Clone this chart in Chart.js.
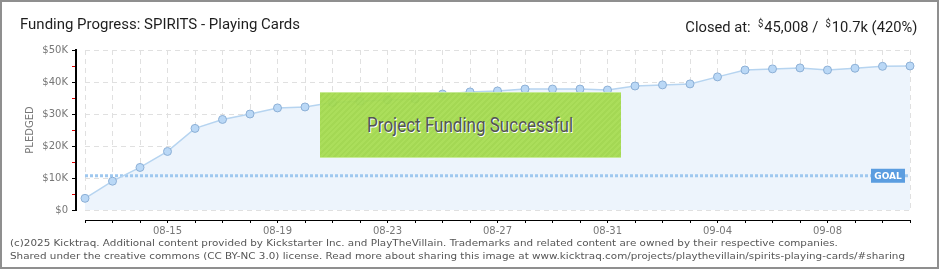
<!DOCTYPE html>
<html><head><meta charset="utf-8">
<script src="https://cdn.jsdelivr.net/npm/chart.js@4/dist/chart.umd.min.js"></script>
<style>
html,body{margin:0;padding:0;background:#fff;}
#wrap{position:relative;width:940px;height:270px;overflow:hidden;background:#fff;}
#frame{position:absolute;left:0;top:0;width:939px;height:269px;box-sizing:border-box;border:2px solid #8f8f8f;pointer-events:none;}
canvas{position:absolute;left:0;top:0;}
.txt{position:absolute;white-space:nowrap;}
#title{left:20px;top:16px;font:15.5px Roboto, "Noto Sans", sans-serif;color:#1e1e1e;line-height:16px;transform-origin:left center;}
#closed{right:23px;top:16px;font:15.5px Roboto, "Noto Sans", sans-serif;color:#1e1e1e;line-height:16px;transform-origin:right center;}
#closed sup{font-size:10px;vertical-align:5px;margin-right:1px;}
.foot{left:10px;font:9.5px "DejaVu Sans", sans-serif;color:#555;line-height:12px;transform-origin:left center;}
#f1{top:237px;}
#f2{top:250px;}
#success{position:absolute;left:320px;top:92px;width:301px;height:66px;box-sizing:border-box;
  background:repeating-linear-gradient(135deg,#a6dc4f 0px,#a6dc4f 2px,#9fd647 2px,#9fd647 4px);
  border-top:1px solid #c4ea8e;border-bottom:1px solid #c4ea8e;opacity:0.93;
  display:flex;align-items:center;justify-content:center;}
#success span{font:19.5px Roboto, "Noto Sans", sans-serif;color:#474747;text-shadow:1px 1px 0 #fff;display:inline-block;}
</style></head>
<body>
<div id="wrap">
  <canvas id="c" width="940" height="270"></canvas>
  <div id="success"><span id="succText">Project Funding Successful</span></div>
  <div class="txt" id="title">Funding Progress: SPIRITS - Playing Cards</div>
  <div class="txt" id="closed">Closed at:&nbsp; <sup>$</sup>45,008 / &nbsp;<sup>$</sup>10.7k (420%)</div>
  <div class="txt foot" id="f1">(c)2025 Kicktraq. Additional content provided by Kickstarter Inc. and PlayTheVillain. Trademarks and related content are owned by their respective companies.</div>
  <div class="txt foot" id="f2">Shared under the creative commons (CC BY-NC 3.0) license. Read more about sharing this image at www.kicktraq.com/projects/playthevillain/spirits-playing-cards/#sharing</div>
  <div id="frame"></div>
</div>
<script>
// ---- data ----
const dates = ['08-12','08-13','08-14','08-15','08-16','08-17','08-18','08-19','08-20','08-21',
  '08-22','08-23','08-24','08-25','08-26','08-27','08-28','08-29','08-30','08-31',
  '09-01','09-02','09-03','09-04','09-05','09-06','09-07','09-08','09-09','09-10','09-11'];
const pledged = [3650, 9000, 13300, 18300, 25500, 28300, 30000, 31900, 32200, 33600,
  34000, 34400, 34700, 36250, 36900, 37200, 37800, 37800, 37800, 37500,
  38750, 39100, 39400, 41600, 43750, 44100, 44400, 43750, 44300, 44900, 45008];
const goal = 10700;
const goalSeries = dates.map(() => goal);
const xTickLabels = ['08-15','08-19','08-23','08-27','08-31','09-04','09-08'];
const yTickValues = [0, 10000, 20000, 30000, 40000, 50000];
const yTickLabels = ['$0','$10K','$20K','$30K','$40K','$50K'];

// fit header / footer text widths
function fitW(id, w){ const el=document.getElementById(id); const r=el.getBoundingClientRect().width; el.style.transform='scaleX('+(w/r)+')'; return w/r; }
fitW('title', 280);
fitW('closed', 232);
const s2 = fitW('f2', 895);
document.getElementById('f1').style.transform='scaleX('+s2+')';
fitW('succText', 206);

const goalLabel = {
  id:'goalLabel',
  afterDatasetsDraw(chart){
    const {ctx, chartArea, scales:{y}} = chart;
    const py = y.getPixelForValue(goal);
    const w=34, h=14, x=chartArea.right-39;
    ctx.save();
    ctx.fillStyle='#5b9de0';
    ctx.fillRect(x, py-h/2, w, h);
    ctx.fillStyle='#ffffff';
    ctx.font='bold 9px "DejaVu Sans"';
    ctx.textAlign='center'; ctx.textBaseline='middle';
    ctx.fillText('GOAL', x+w/2, py+0.5);
    ctx.restore();
  }
};

const gridDash = [5,4];
new Chart(document.getElementById('c'), {
  type:'line',
  data:{
    labels: dates,
    datasets:[
      { label:'Goal', data: goalSeries, xAxisID:'x', yAxisID:'y',
        borderColor:'#9fc8ef', borderWidth:3, borderDash:[3,2], pointRadius:0, fill:false, order:2 },
      { label:'Pledged', data: pledged, xAxisID:'x', yAxisID:'y',
        borderColor:'#b6d4f0', borderWidth:1.5, backgroundColor:'#edf4fc', fill:'origin', tension:0,
        pointRadius:4, pointBackgroundColor:'#bad8f6', pointBorderColor:'#8db0d6', pointBorderWidth:1, order:1 }
    ]
  },
  options:{
    responsive:false, animation:false, devicePixelRatio:1,
    layout:{ padding:{ left:0, top:50, right:30, bottom:30 } },
    plugins:{ legend:{display:false}, tooltip:{enabled:false}, title:{display:false},
      filler:{ drawTime:'beforeDatasetsDraw' } },
    events:[],
    scales:{
      x:{ type:'category', position:'bottom', weight:1, offset:false,
        grid:{ color:'#e0e0e0', drawTicks:false, lineWidth:1 },
        border:{ display:false, dash:gridDash },
        ticks:{ display:false },
        afterFit(s){ s.height = 10; } },
      x2:{ type:'category', position:'bottom', weight:2, offset:false,
        grid:{ drawOnChartArea:false, drawTicks:true, tickLength:3, color:'#000', lineWidth:1 },
        border:{ display:true, color:'#000', width:1 },
        ticks:{ autoSkip:false, maxRotation:0, minRotation:0, padding:2, color:'#777',
          font:{ family:'"DejaVu Sans"', size:10 },
          callback(v, i){ const l = dates[i]; return xTickLabels.includes(l) ? l : ''; } },
        afterFit(s){ s.height = 20; } },
      y:{ type:'linear', position:'left', weight:1, min:0, max:50000,
        grid:{ color:'#e0e0e0', drawTicks:false, lineWidth:1 },
        border:{ display:false, dash:gridDash },
        ticks:{ display:false, stepSize:10000 },
        afterFit(s){ s.width = 9; } },
      y2:{ type:'linear', position:'left', weight:2, min:0, max:50000,
        grid:{ drawOnChartArea:false, drawTicks:true, tickLength:4, lineWidth:1,
          color(ctx){ return (ctx.tick && ctx.tick.value % 10000 !== 0) ? '#e00000' : '#000'; } },
        border:{ display:true, color:'#000', width:2 },
        ticks:{ stepSize:5000, padding:4, color:'#777', font:{ family:'"DejaVu Sans"', size:10 },
          callback(v){ const k = yTickValues.indexOf(v); return k >= 0 ? yTickLabels[k] : ''; } },
        title:{ display:true, text:'PLEDGED', color:'#777', font:{ family:'"DejaVu Sans"', size:10 }, padding:{ top:24, bottom:0 } },
        afterFit(s){ s.width = 76; } }
    }
  },
  plugins:[goalLabel]
});
</script>
</body></html>
